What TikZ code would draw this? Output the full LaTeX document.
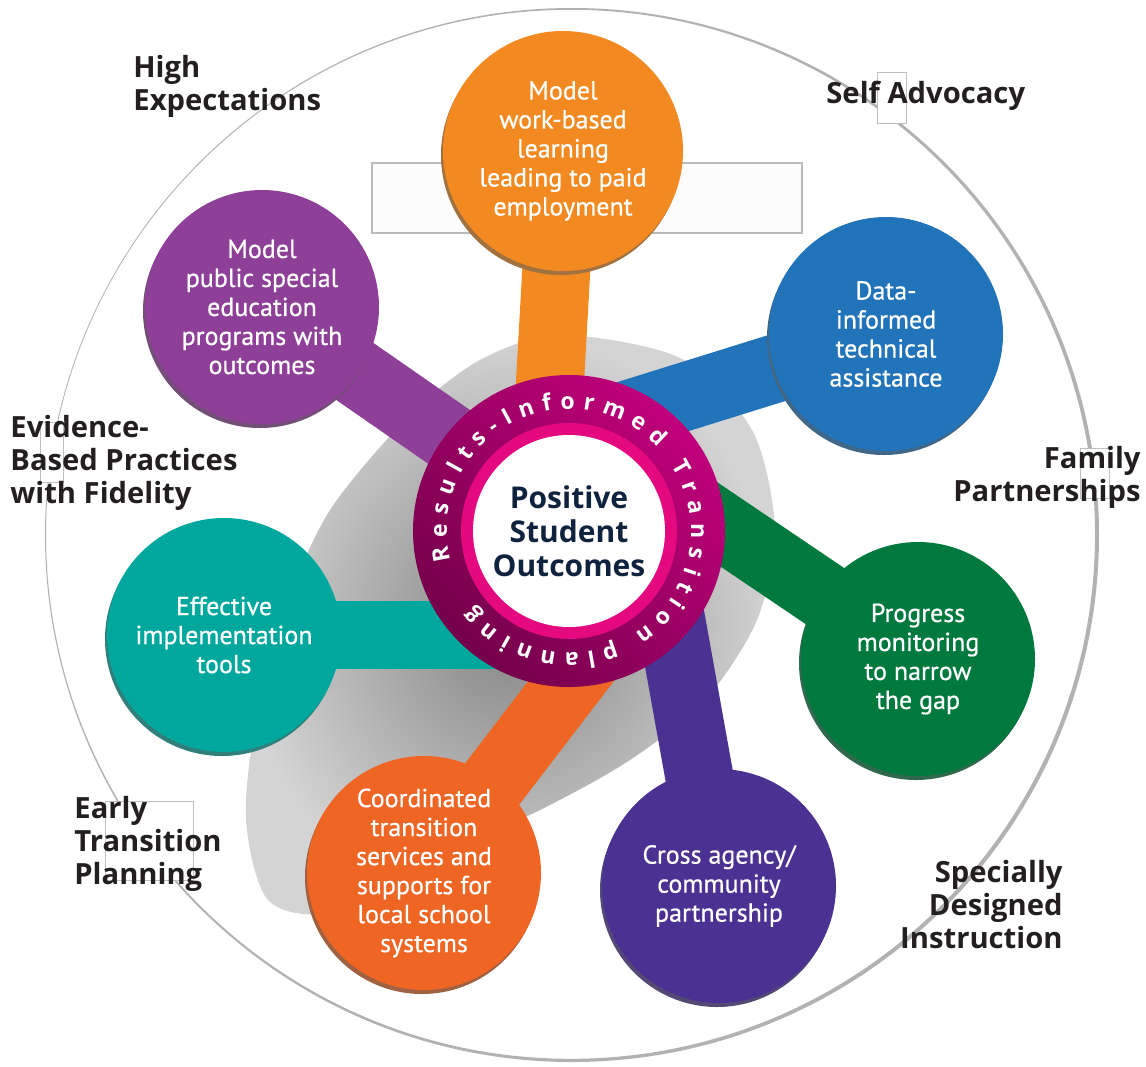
\documentclass[tikz,border=0pt]{standalone}
\usepackage{fontspec}
\setmainfont{PT Sans}
\newfontfamily\opensans{Open Sans}
\newfontfamily\bubblefam{PT Sans}[FakeBold=0.6]
\usetikzlibrary{calc,shadows,decorations.text}

\definecolor{workorange}{HTML}{F28A21}
\definecolor{datablue}{HTML}{2173BA}
\definecolor{modelpurple}{HTML}{8E3F97}
\definecolor{toolsteal}{HTML}{00A79D}
\definecolor{progressgreen}{HTML}{00793F}
\definecolor{coordorange}{HTML}{EE6524}
\definecolor{crossindigo}{HTML}{4B3192}
\definecolor{ringdark}{HTML}{74004A}
\definecolor{ringlight}{HTML}{C0007B}
\definecolor{ringpink}{HTML}{E4097F}
\definecolor{goalnavy}{HTML}{0F233F}
\definecolor{labelgray}{HTML}{231F20}

\newcommand\bubblefont{\bubblefam\fontsize{13}{14.5}\selectfont}
\newcommand\topicfont{\opensans\fontsize{14.6}{16.5}\selectfont\bfseries}
\newcommand\goalfont{\opensans\fontsize{15}{17}\selectfont\bfseries}
\newcommand\ringfont{\opensans\fontsize{11.5}{13}\selectfont\bfseries\color{white}}

\pgfdeclarelayer{back}
\pgfdeclarelayer{stems}
\pgfsetlayers{back,stems,main}

\begin{document}
\begin{tikzpicture}[x=0.5pt,y=0.5pt]
    \tikzset{bubble/.style={circle, minimum size=117pt, inner sep=0pt, fill=#1,
        text=white, align=center, font=\bubblefont,
        drop shadow={shadow xshift=-1pt, shadow yshift=-2pt, fill=#1!55!gray!85!black, opacity=1}}}
    \tikzstyle{stem} = [line width=34pt]
    \tikzstyle{topic} = [text=labelgray, font=\topicfont, inner sep=0pt]
    \tikzstyle{tag} = [draw=black!25, line width=0.4pt, fill=white]

    \useasboundingbox (0,0) rectangle (1146,-1066);

    % Bubbles .........................
    \node[bubble=workorange, minimum size=120pt] (work) at (563,-151)
        {Model\\work-based\\learning\\leading to paid\\employment};
    \node[bubble=datablue] (data) at (886,-334)
        {Data-\\informed\\technical\\assistance};
    \node[bubble=modelpurple] (model) at (262,-307)
        {Model\\public special\\education\\programs with\\outcomes};
    \node[bubble=toolsteal] (tools) at (224,-635)
        {Effective\\implementation\\tools};
    \node[bubble=progressgreen] (progress) at (918,-659)
        {Progress\\monitoring\\to narrow\\the gap};
    \node[bubble=coordorange] (coord) at (424,-873)
        {Coordinated\\transition\\services and\\supports for\\local school\\systems};
    \node[bubble=crossindigo] (cross) at (719,-886)
        {Cross agency/\\community\\partnership};

    % Hub .........................
    \node[circle, minimum size=156pt, inner sep=0pt,
          left color=ringdark, right color=ringlight, shading angle=135] (hub) at (569,-531) {};
    \fill[ringpink] (hub) circle[radius=108];
    \fill[white] (hub) circle[radius=96];
    \node[font=\goalfont, text=goalnavy, align=center] (goal) at (hub) {Positive\\Student\\Outcomes};
    \path[decorate, decoration={text along path, text align=fit to path,
          text={|\ringfont|Results-Informed Transition planning}}]
        ($(hub)+(194:122)$) arc[start angle=194, end angle=-142, radius=122];

    % Stems .........................
    \coordinate (workend) at (545,-470);
    \coordinate (dataend) at (610,-420);
    \coordinate (modelend) at (540,-500);
    \coordinate (toolsend) at (520,-635);
    \coordinate (progressend) at (600,-444);
    \coordinate (coordend) at (650,-578);
    \coordinate (crossend) at (664,-580);
    \begin{pgfonlayer}{stems}
        \draw[stem, workorange] (work.center) -- (workend);
        \draw[stem, datablue] (data.center) -- (dataend);
        \draw[stem, modelpurple] (model.center) -- (modelend);
        \draw[stem, toolsteal] (tools.center) -- (toolsend);
        \draw[stem, progressgreen] (progress.center) -- (progressend);
        \draw[stem, coordorange] (coord.center) -- (coordend);
        \draw[stem, crossindigo] (cross.center) -- (crossend);
    \end{pgfonlayer}

    % Background .........................
    \begin{pgfonlayer}{back}
        \fill[black!30, even odd rule] (572,-535) circle[radius=527] (570.5,-534.3) circle[radius=524.5];
        \draw[black!27, line width=1pt, fill=black!1] (372,-163) rectangle (802,-233);
        \draw[tag] (877,-72) rectangle (906,-123);
        \draw[tag] (105,-801) rectangle (193,-880);
        \draw[tag] (1080,-448) rectangle (1109,-498);
        \draw[tag] (40,-422) rectangle (63,-482);
        \shade[inner color=black!48, outer color=black!17]
            plot[smooth cycle] coordinates {(560,-335) (680,-358) (752,-430) (775,-530) (757,-620)
                (705,-700) (630,-760) (540,-810) (430,-860) (330,-912) (268,-900) (246,-820)
                (256,-720) (285,-610) (330,-510) (410,-415) (480,-360)};
    \end{pgfonlayer}

    % Topics .........................
    \node[topic, anchor=west, align=left] (high) at (133,-86) {High\\Expectations};
    \node[topic, anchor=west] (self) at (826,-96) {Self Advocacy};
    \node[topic, anchor=west, align=left] (evidence) at (10,-463) {Evidence-\\Based Practices\\with Fidelity};
    \node[topic, anchor=east, align=right] (family) at (1141,-477) {Family\\Partnerships};
    \node[topic, anchor=west, align=left] (early) at (74,-844) {Early\\Transition\\Planning};
    \node[topic, anchor=east, align=right] (special) at (1063,-905) {Specially\\Designed\\Instruction};
\end{tikzpicture}
\end{document}
